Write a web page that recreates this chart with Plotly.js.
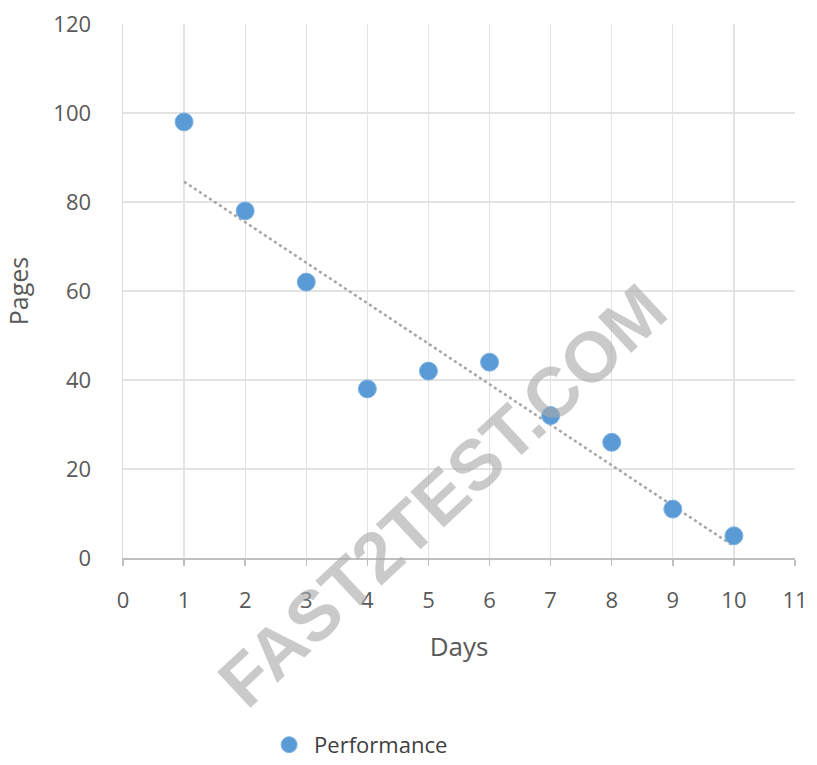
<!DOCTYPE html>
<html>
<head>
<meta charset="utf-8">
<script src="https://cdn.plot.ly/plotly-3.0.1.min.js"></script>
<style>html,body{margin:0;padding:0;background:#fff;}#chart{width:817px;height:765px;}</style>
</head>
<body>
<div id="chart"></div>
<script>
var days = [1, 2, 3, 4, 5, 6, 7, 8, 9, 10];
var pages = [98, 78, 62, 38, 42, 44, 32, 26, 11, 5];
var seriesName = "Performance";
var xTicks = [0,1,2,3,4,5,6,7,8,9,10,11];
var yTicks = [0,20,40,60,80,100,120];

// linear trendline computed from the data (least squares)
var n = days.length;
var mx = days.reduce(function(a,b){return a+b;},0)/n;
var my = pages.reduce(function(a,b){return a+b;},0)/n;
var sxy = 0, sxx = 0;
for (var i=0;i<n;i++){ sxy += (days[i]-mx)*(pages[i]-my); sxx += (days[i]-mx)*(days[i]-mx); }
var slope = sxy/sxx, icpt = my - slope*mx;
var trendX = [days[0], days[n-1]];
var trendY = trendX.map(function(x){return icpt + slope*x;});

var font = "Open Sans, Noto Sans, sans-serif";
var traces = [
  {x: trendX, y: trendY, mode: "lines", showlegend: false, hoverinfo: "skip",
   line: {color: "#A6A6A6", width: 2.5, dash: "dot"}},
  {x: days, y: pages, mode: "markers", name: seriesName,
   marker: {color: "#5B9BD5", size: 18, line: {color: "#7fb3e3", width: 1}}}
];
var layout = {
  width: 817, height: 765,
  margin: {l: 123, r: 22, t: 24, b: 207, autoexpand: false},
  paper_bgcolor: "#fff", plot_bgcolor: "#fff",
  font: {family: font, color: "#595959", size: 22},
  xaxis: {range: [0, 11], tickvals: xTicks, ticktext: xTicks.map(String),
    automargin: false,
    showgrid: true, gridcolor: "#E3E3E3", gridwidth: 1.2,
    zeroline: false, showline: true, linecolor: "#BFBFBF", linewidth: 2,
    ticks: "outside", ticklen: 6, tickcolor: "#BFBFBF", tickwidth: 1.5,
    ticklabelstandoff: 16,
    tickfont: {size: 22, color: "#595959"},
    title: {text: "Days", font: {size: 26, color: "#595959"}, standoff: 24}},
  yaxis: {range: [0, 120], tickvals: yTicks, ticktext: yTicks.map(String),
    automargin: false,
    showgrid: true, gridcolor: "#E3E3E3", gridwidth: 1.2,
    zeroline: false, showline: true, linecolor: "#D9D9D9", linewidth: 1.5,
    ticks: "", ticklabelstandoff: 26,
    tickfont: {size: 22, color: "#595959"},
    title: {text: "Pages", font: {size: 25, color: "#595959"}, standoff: 17}},
  showlegend: true,
  legend: {orientation: "h", x: 0.21, xanchor: "left", y: -0.35, yanchor: "middle",
    font: {size: 22, color: "#404040"}, bgcolor: "rgba(0,0,0,0)", itemwidth: 40},
  annotations: [{
    text: "<b>FAST2TEST.COM</b>", xref: "paper", yref: "paper",
    x: (442-123)/672, y: (558-495)/534, xanchor: "center", yanchor: "middle",
    showarrow: false, textangle: -43,
    font: {family: "Liberation Sans, Arial, sans-serif", size: 71, color: "rgba(170,170,170,0.62)"}
  }]
};
Plotly.newPlot("chart", traces, layout, {displayModeBar: false, staticPlot: true});
</script>
</body>
</html>
